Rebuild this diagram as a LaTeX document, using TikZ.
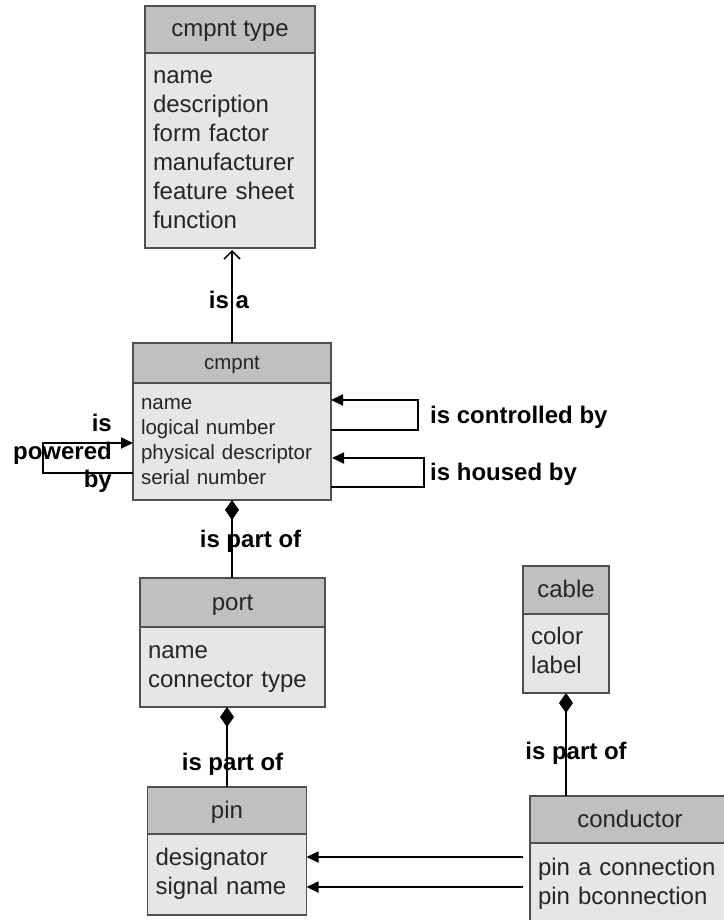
\documentclass[tikz,border=0pt]{standalone}
\usepackage{fontspec}
\setmainfont{Liberation Sans}
\usetikzlibrary{arrows.meta,positioning,calc}

\definecolor{hdrfill}{RGB}{192,192,192}
\definecolor{bodyfill}{RGB}{230,230,230}
\definecolor{boxline}{RGB}{80,80,80}
\definecolor{attrtext}{RGB}{38,38,38}

\tikzset{
  classhdr/.style={draw=boxline, line width=1.3pt, fill=hdrfill, outer sep=0pt, inner sep=0pt, text=attrtext,
    text height=#1, text depth=0pt},
  classhdr/.default=15pt,
  classbody/.style={draw=boxline, line width=1.3pt, fill=bodyfill, outer sep=0pt, inner xsep=8pt, inner ysep=0pt,
    align=left, text=attrtext, execute at begin node=\strut, execute at end node=\strut},
  bigfont/.style={font=\fontsize{24}{29}\selectfont},
  smallfont/.style={font=\fontsize{20.5}{25}\selectfont},
  rellabel/.style={font=\fontsize{24}{28}\selectfont\bfseries, inner sep=0pt},
  link/.style={line width=1.8pt},
  partof/.style={link, {Diamond[length=20pt,width=14pt]}-},
  isa/.style={link, -{Straight Barb[length=8pt,width=16pt,line width=1.5pt]}},
  refers/.style={link, -{Triangle[length=12pt,width=11pt]}},
}

\begin{document}
\begin{tikzpicture}[x=1pt,y=-1pt]
    \useasboundingbox (0,0) rectangle (723,920);

    % classes
    \node[classhdr, bigfont, minimum width=170pt, minimum height=47pt] (typehdr) at (230,29.5) {cmpnt type};
    \node[classbody, bigfont, text width=154pt, minimum height=195pt, below=0pt of typehdr] (typebody)
        {name\\description\\form factor\\manufacturer\\feature sheet\\function};

    \node[classhdr=12.5pt, smallfont, minimum width=198pt, minimum height=40pt] (cmpnthdr) at (232,363) {cmpnt};
    \node[classbody, smallfont, text width=182pt, minimum height=117pt, below=0pt of cmpnthdr] (cmpntbody)
        {name\\logical number\\physical descriptor\\serial number};

    \node[classhdr, bigfont, minimum width=185pt, minimum height=49pt] (porthdr) at (232.5,602.5) {port};
    \node[classbody, bigfont, text width=169pt, minimum height=80pt, below=0pt of porthdr] (portbody)
        {name\\connector type};

    \node[classhdr, bigfont, minimum width=159pt, minimum height=47pt] (pinhdr) at (227,810.5) {pin};
    \node[classbody, bigfont, text width=143pt, minimum height=81pt, below=0pt of pinhdr] (pinbody)
        {designator\\signal name};

    \node[classhdr, bigfont, minimum width=86pt, minimum height=48pt] (cablehdr) at (566,590) {cable};
    \node[classbody, bigfont, text width=70pt, minimum height=79pt, below=0pt of cablehdr] (cablebody)
        {color\\label};

    \node[classhdr, bigfont, minimum width=200pt, minimum height=47pt] (condhdr) at (630,819.5) {conductor};
    \node[classbody, bigfont, text width=184pt, minimum height=82pt, below=0pt of condhdr] (condbody)
        {pin a connection\\pin bconnection};

    % is a
    \draw[isa, shorten >=2pt] (cmpnthdr.north) -- (cmpnthdr.north |- typebody.south);
    \node[rellabel, anchor=base] (isalbl) at (229,308) {is a};

    % is part of
    \draw[partof] (cmpntbody.south) -- (cmpntbody.south |- porthdr.north);
    \node[rellabel, anchor=base] (partlbla) at (250.5,547) {is part of};
    \draw[partof] (pinhdr.north |- portbody.south) -- (pinhdr.north);
    \node[rellabel, anchor=base] (partlblb) at (232.5,770) {is part of};
    \draw[partof] (cablebody.south) -- (cablebody.south |- condhdr.north);
    \node[rellabel, anchor=base] (partlblc) at (576,759) {is part of};

    % pin connections
    \coordinate (pina) at ([yshift=17.5pt]pinbody.east);
    \coordinate (pinb) at ([yshift=-12.5pt]pinbody.east);
    \draw[refers, shorten <=7pt] (pina -| condbody.west) -- (pina);
    \draw[refers, shorten <=7pt] (pinb -| condbody.west) -- (pinb);

    % self references
    \draw[refers] ([yshift=11.5pt]cmpntbody.east) -- ++(87,0) |- ([yshift=41.5pt]cmpntbody.east);
    \node[rellabel, anchor=base west] (ctrllbl) at (430,423) {is controlled by};
    \draw[refers, shorten >=1pt] ([yshift=-45.5pt]cmpntbody.east) -- ++(93,0) |- ([yshift=-16.5pt]cmpntbody.east);
    \node[rellabel, anchor=base west] (houselbl) at (430,480) {is housed by};
    \draw[refers] ([yshift=-31.5pt]cmpntbody.west) -- ++(-90,0) |- ([yshift=-1.5pt]cmpntbody.west);
    \node[rellabel, align=right, anchor=east] (powerlbl) at (112,453) {is\\powered\\by};
\end{tikzpicture}
\end{document}
